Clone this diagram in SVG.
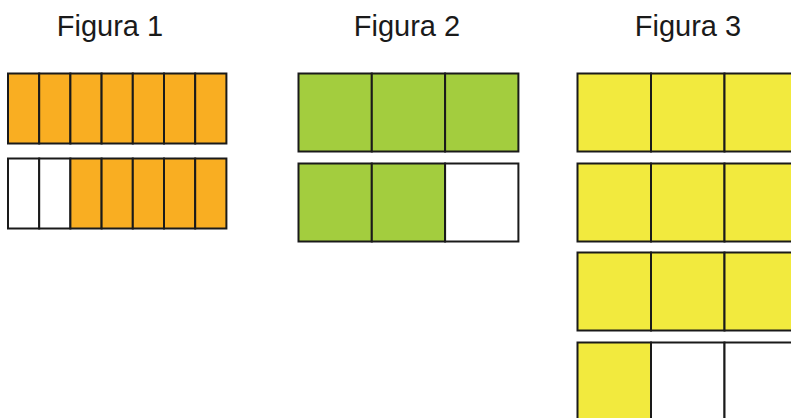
<svg xmlns="http://www.w3.org/2000/svg" width="791" height="418" viewBox="0 0 791 418">
<style>
.t{font-family:"Liberation Sans",Arial,sans-serif;font-size:29px;fill:#1a1a1a;text-anchor:middle}
.o,.g,.y,.w{stroke:#1a1a1a;stroke-width:2}
.o{fill:#F9AE22}.g{fill:#A3CD3E}.y{fill:#F2EA3E}.w{fill:#fff}
</style>
<rect width="791" height="418" fill="#fff"/>
<g id="fig1">
<text class="t" x="110" y="36">Figura 1</text>
<g id="fig1-row1">
<rect class="o" x="8" y="73.5" width="31.2" height="70"/>
<rect class="o" x="39.2" y="73.5" width="31.2" height="70"/>
<rect class="o" x="70.4" y="73.5" width="31.2" height="70"/>
<rect class="o" x="101.6" y="73.5" width="31.2" height="70"/>
<rect class="o" x="132.8" y="73.5" width="31.2" height="70"/>
<rect class="o" x="164" y="73.5" width="31.2" height="70"/>
<rect class="o" x="195.2" y="73.5" width="31.2" height="70"/>
</g>
<g id="fig1-row2">
<rect class="w" x="8" y="158.5" width="31.2" height="70"/>
<rect class="w" x="39.2" y="158.5" width="31.2" height="70"/>
<rect class="o" x="70.4" y="158.5" width="31.2" height="70"/>
<rect class="o" x="101.6" y="158.5" width="31.2" height="70"/>
<rect class="o" x="132.8" y="158.5" width="31.2" height="70"/>
<rect class="o" x="164" y="158.5" width="31.2" height="70"/>
<rect class="o" x="195.2" y="158.5" width="31.2" height="70"/>
</g>
</g>
<g id="fig2">
<text class="t" x="407" y="36">Figura 2</text>
<g id="fig2-row1">
<rect class="g" x="298.5" y="73.5" width="73.3" height="78"/>
<rect class="g" x="371.8" y="73.5" width="73.3" height="78"/>
<rect class="g" x="445.1" y="73.5" width="73.3" height="78"/>
</g>
<g id="fig2-row2">
<rect class="g" x="298.5" y="163.5" width="73.3" height="78"/>
<rect class="g" x="371.8" y="163.5" width="73.3" height="78"/>
<rect class="w" x="445.1" y="163.5" width="73.3" height="78"/>
</g>
</g>
<g id="fig3">
<text class="t" x="688" y="36">Figura 3</text>
<g id="fig3-row1">
<rect class="y" x="577.5" y="73.5" width="73.5" height="78"/>
<rect class="y" x="651" y="73.5" width="73.5" height="78"/>
<rect class="y" x="724.5" y="73.5" width="73.5" height="78"/>
</g>
<g id="fig3-row2">
<rect class="y" x="577.5" y="163.5" width="73.5" height="78"/>
<rect class="y" x="651" y="163.5" width="73.5" height="78"/>
<rect class="y" x="724.5" y="163.5" width="73.5" height="78"/>
</g>
<g id="fig3-row3">
<rect class="y" x="577.5" y="252.5" width="73.5" height="78"/>
<rect class="y" x="651" y="252.5" width="73.5" height="78"/>
<rect class="y" x="724.5" y="252.5" width="73.5" height="78"/>
</g>
<g id="fig3-row4">
<rect class="y" x="577.5" y="342.5" width="73.5" height="78"/>
<rect class="w" x="651" y="342.5" width="73.5" height="78"/>
<rect class="w" x="724.5" y="342.5" width="73.5" height="78"/>
</g>
</g>
<g id="connectors"/>
</svg>
